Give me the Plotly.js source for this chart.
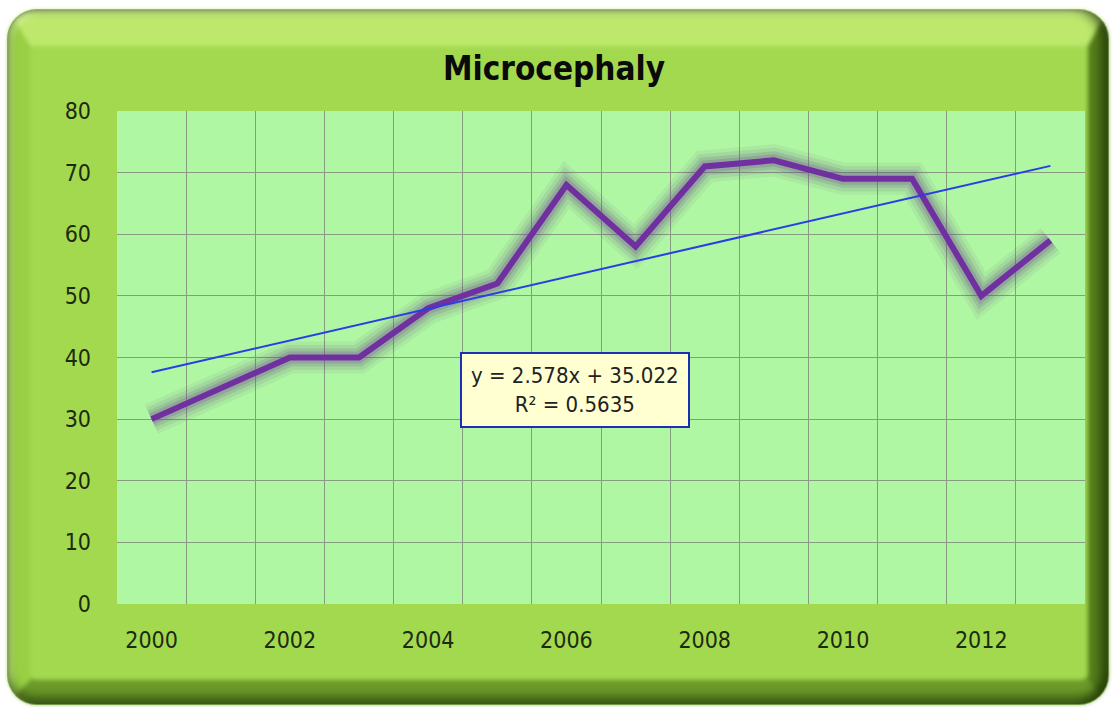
<!DOCTYPE html>
<html><head><meta charset="utf-8">
<script src="https://cdn.plot.ly/plotly-3.0.1.min.js"></script>
<style>
html,body{margin:0;padding:0;background:#fff;width:1115px;height:713px;overflow:hidden;}
#outline{position:absolute;left:7px;top:9px;width:1102px;height:696px;border-radius:30px;background:#7a9a55;}
#frame{position:absolute;left:8px;top:10px;width:1100px;height:694px;box-sizing:border-box;border-radius:29px;overflow:hidden;
 border-style:solid;border-width:36px 20px 24px 22px;
 border-color:#bde86c #567f1c #6b9a29 #98cf44;
 background:#a3d94f;filter:blur(2px);}
#shade{position:absolute;left:8px;top:10px;width:1100px;height:694px;border-radius:29px;
 box-shadow: inset -8px 0 10px rgba(20,40,0,0.55), inset 0 -8px 10px rgba(20,40,0,0.45), inset 4px 4px 6px rgba(255,255,220,0.35);}
#chart{position:absolute;left:0;top:0;width:1115px;height:713px;}
</style></head>
<body>
<div id="outline"></div>
<div id="frame"></div>
<div id="shade"></div>
<div id="chart"></div>
<script>
const years = ['2000','2001','2002','2003','2004','2005','2006','2007','2008','2009','2010','2011','2012','2013'];
const values = [30,35,40,40,48,52,68,58,71,72,69,69,50,59];
const tickLabels = ['2000','2002','2004','2006','2008','2010','2012'];
const trendEnds = [37.6, 71.1];
const yTicks = [0,10,20,30,40,50,60,70,80];

const idx = years.map((_,i)=>i);
const tickIdx = tickLabels.map(t=>years.indexOf(t));
const traces = [];
[[32,'rgba(100,80,125,0.08)'],[25,'rgba(100,80,125,0.11)'],[18,'rgba(108,76,138,0.16)'],[12,'rgba(120,80,155,0.24)']].forEach(g=>{
  traces.push({x:idx,y:values,mode:'lines',line:{color:g[1],width:g[0]},hoverinfo:'skip',showlegend:false});
});
traces.push({x:idx,y:values,mode:'lines',line:{color:'#7030a0',width:6},showlegend:false});
traces.push({x:[idx[0],idx[idx.length-1]],y:trendEnds,mode:'lines',line:{color:'#2a3ee6',width:2},showlegend:false});

const font = "DejaVu Sans Condensed, DejaVu Sans, sans-serif";
const grid = '#889a80';
const layout = {
  width:1115,height:713,
  paper_bgcolor:'rgba(0,0,0,0)',plot_bgcolor:'#aff7a3',
  margin:{l:117,r:30,t:111,b:109},
  title:{text:'<b>Microcephaly</b>',x:554/1115,xanchor:'center',y:1-68/713,yanchor:'middle',font:{family:font,size:33,color:'#0a0a0a'}},
  xaxis:{range:[-0.5,13.5],tickmode:'array',tickvals:tickIdx,ticktext:tickLabels,showgrid:false,zeroline:false,
    ticks:'',ticklabelstandoff:20,tickfont:{family:font,size:23,color:'#1c2a10'},
    minor:{tickmode:'linear',tick0:-0.5,dtick:1,showgrid:true,gridcolor:grid,gridwidth:1,ticks:''},
    showline:false,fixedrange:true},
  yaxis:{range:[0,80],tickmode:'array',tickvals:yTicks,showgrid:true,gridcolor:grid,gridwidth:1,zeroline:false,
    ticks:'',ticklabelstandoff:25,tickfont:{family:font,size:23,color:'#1c2a10'},fixedrange:true},
  annotations:[{xref:'paper',yref:'paper',x:(575-117)/968,y:(604-390)/493,xanchor:'center',yanchor:'middle',
    text:'y = 2.578x + 35.022<br>R² = 0.5635',showarrow:false,align:'center',
    font:{family:font,size:22,color:'#222'},bgcolor:'#ffffd2',bordercolor:'#1c2fb0',borderwidth:2,borderpad:9}]
};
Plotly.newPlot('chart',traces,layout,{displayModeBar:false,staticPlot:true});
</script>
</body></html>
